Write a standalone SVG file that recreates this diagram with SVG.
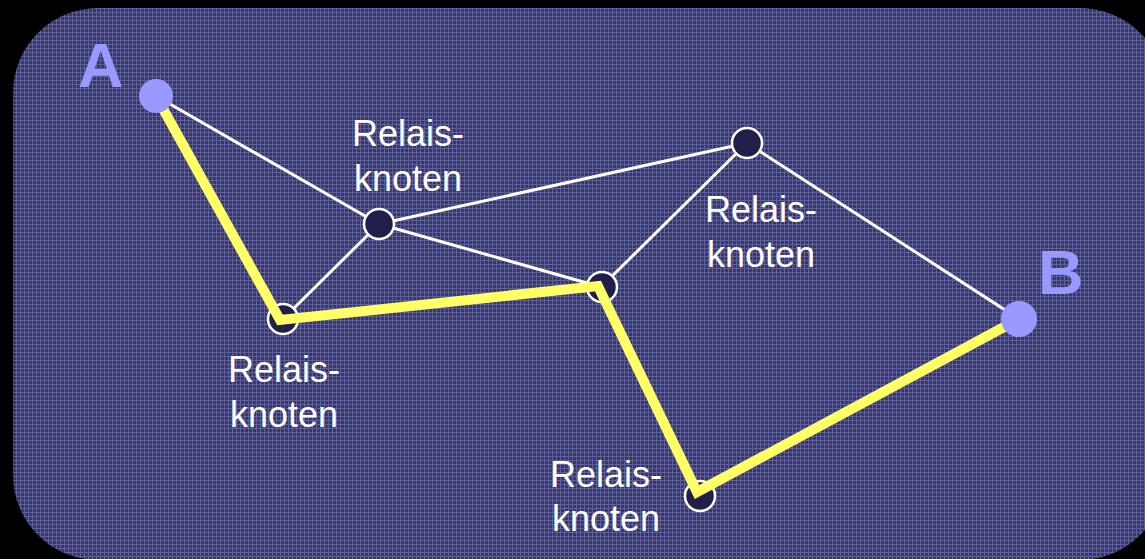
<svg xmlns="http://www.w3.org/2000/svg" width="1145" height="559" viewBox="0 0 1145 559">
<style>
.edge{stroke:#ffffff;stroke-width:3;fill:none}
.path{stroke:#ffff66;stroke-width:10;fill:none;stroke-linejoin:miter}
.relay{fill:#1f1f4a;stroke:#ffffff;stroke-width:2.5}
.end{fill:#9999ff}
.lbl{font-family:"Liberation Sans",Arial,sans-serif;font-size:36px;fill:#ffffff;text-anchor:middle}
.big{font-family:"Liberation Sans",Arial,sans-serif;font-size:63px;font-weight:bold;fill:#9999ff}
</style>
<defs>
<pattern id="grid" width="4" height="4" patternUnits="userSpaceOnUse">
<rect width="4" height="4" fill="#393960"/>
<rect x="0" y="0" width="4" height="1" fill="#5f5f9c"/>
<rect x="0" y="0" width="1" height="4" fill="#5f5f9c"/>
</pattern>
</defs>
<rect width="1145" height="559" fill="#000000"/>
<rect x="13" y="8" width="1152" height="552" rx="85" ry="85" fill="url(#grid)"/>
<g id="connectors">
<line class="edge" x1="156" y1="96" x2="379" y2="224"/>
<line class="edge" x1="379" y1="224" x2="747" y2="143"/>
<line class="edge" x1="379" y1="224" x2="601" y2="287"/>
<line class="edge" x1="379" y1="224" x2="283" y2="319"/>
<line class="edge" x1="601" y1="287" x2="747" y2="143"/>
<line class="edge" x1="747" y1="143" x2="1019" y2="319"/>
</g>
<g id="n1"><circle class="relay" cx="379" cy="224" r="15"/><text class="lbl" x="408" y="146">Relais-</text><text class="lbl" x="408" y="191">knoten</text></g>
<g id="n2"><circle class="relay" cx="747" cy="143" r="15"/><text class="lbl" x="761" y="222">Relais-</text><text class="lbl" x="761" y="267">knoten</text></g>
<g id="n3"><circle class="relay" cx="602" cy="287" r="15"/></g>
<g id="n4"><circle class="relay" cx="283" cy="319" r="15"/><text class="lbl" x="284" y="382">Relais-</text><text class="lbl" x="284" y="427">knoten</text></g>
<g id="n5"><circle class="relay" cx="700" cy="496" r="15"/><text class="lbl" x="606" y="487">Relais-</text><text class="lbl" x="606" y="531">knoten</text></g>
<g id="route">
<polyline class="path" points="156,96 280,320 598,286 697,492 1019,319"/>
</g>
<g id="A"><circle class="end" cx="156" cy="96" r="17"/><text class="big" x="78" y="87">A</text></g>
<g id="B"><circle class="end" cx="1019" cy="319" r="18"/><text class="big" x="1038" y="294">B</text></g>
</svg>
